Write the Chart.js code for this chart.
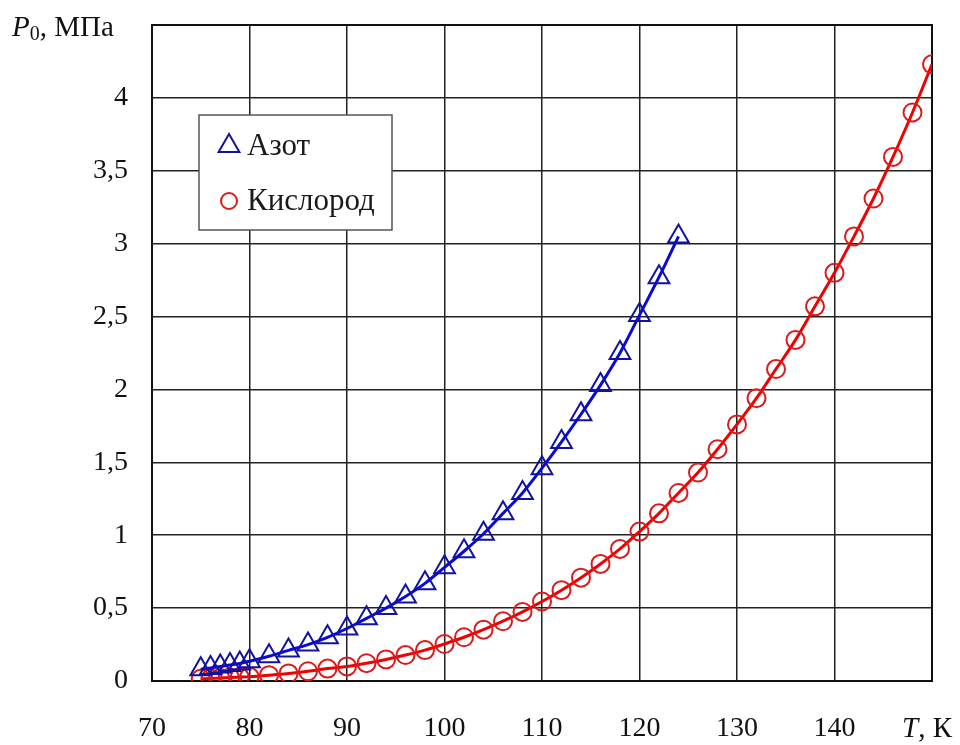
<!DOCTYPE html>
<html>
<head>
<meta charset="utf-8">
<script src="https://cdn.jsdelivr.net/npm/chart.js@4"></script>
<style>
  body { margin: 0; background: #fff; }
</style>
</head>
<body>
<canvas id="chart1" width="960" height="745"></canvas>
<script>
// nitrogen (Азот): temperature, K and pressure, MPa
var tN2 = [75, 76, 77, 78, 79, 80, 82, 84, 86, 88, 90, 92, 94, 96, 98, 100, 102, 104, 106, 108, 110, 112, 114, 116, 118, 120, 122, 124];
var pN2 = [0.08, 0.09, 0.10, 0.11, 0.12, 0.135, 0.17, 0.21, 0.25, 0.30, 0.36, 0.43, 0.50, 0.58, 0.67, 0.78, 0.89, 1.01, 1.15, 1.29, 1.46, 1.64, 1.83, 2.03, 2.25, 2.51, 2.77, 3.05];

// oxygen (Кислород)
var tO2 = [75, 76, 77, 78, 79, 80, 82, 84, 86, 88, 90, 92, 94, 96, 98, 100, 102, 104, 106, 108, 110, 112, 114, 116, 118, 120, 122, 124, 126, 128, 130, 132, 134, 136, 138, 140, 142, 144, 146, 148, 150];
var pO2 = [0.015, 0.017, 0.02, 0.024, 0.027, 0.03, 0.04, 0.052, 0.067, 0.085, 0.1, 0.122, 0.148, 0.178, 0.212, 0.254, 0.3, 0.352, 0.41, 0.474, 0.545, 0.623, 0.709, 0.803, 0.906, 1.025, 1.15, 1.29, 1.43, 1.59, 1.76, 1.94, 2.14, 2.34, 2.57, 2.80, 3.05, 3.31, 3.595, 3.90, 4.23];

var seriesNames = ['Азот', 'Кислород'];

var xMin = 70, xMax = 150, xStep = 10;
var yMin = 0, yMax = 4.5, yStep = 0.5;

var serif = '"Liberation Serif", "Times New Roman", serif';

function toPoints(xs, ys){
  var pts = [];
  for (var i = 0; i < xs.length; i++) {
    pts.push({x: xs[i], y: ys[i]});
  }
  return pts;
}

function marker(ctx, style, r, x, y){
  ctx.beginPath();
  if (style == 'triangle') {
    ctx.moveTo(x, y - r);
    ctx.lineTo(x + r * Math.sqrt(3) / 2, y + r / 2);
    ctx.lineTo(x - r * Math.sqrt(3) / 2, y + r / 2);
    ctx.closePath();
  } else {
    ctx.arc(x, y, r, 0, Math.PI * 2);
  }
  ctx.stroke();
}

// white box legend inside the plot + axis captions
var extras = {
  id: 'extras',
  beforeDatasetsDraw: function(chart){
    var a = chart.chartArea, ctx = chart.ctx;
    ctx.save();
    ctx.strokeStyle = '#111';
    ctx.lineWidth = 2;
    ctx.strokeRect(a.left, a.top, a.right - a.left, a.bottom - a.top);
    ctx.restore();
  },
  afterDraw: function(chart){
    var a = chart.chartArea, ctx = chart.ctx;
    ctx.save();

    // legend
    var bx = a.left + 47, by = a.top + 90, bw = 193, bh = 115;
    ctx.fillStyle = '#fff';
    ctx.fillRect(bx, by, bw, bh);
    ctx.strokeStyle = '#555';
    ctx.lineWidth = 1.5;
    ctx.strokeRect(bx, by, bw, bh);

    var rows = [31, 86];
    chart.data.datasets.forEach(function(ds, i){
      ctx.strokeStyle = ds.pointBorderColor;
      ctx.lineWidth = 2;
      marker(ctx, ds.pointStyle, ds.pointStyle == 'triangle' ? 12 : 8, bx + 30, by + rows[i]);
      ctx.fillStyle = '#1a1a1a';
      ctx.font = '31px ' + serif;
      ctx.textBaseline = 'middle';
      ctx.textAlign = 'left';
      ctx.fillText(ds.label, bx + 48, by + rows[i] + 1);
    });

    // y caption: P0, МПа
    ctx.fillStyle = '#111';
    ctx.textBaseline = 'alphabetic';
    ctx.font = 'italic 29px ' + serif;
    ctx.fillText('P', 12, 36);
    var w = ctx.measureText('P').width;
    ctx.font = '20px ' + serif;
    ctx.fillText('0', 12 + w, 40);
    var w2 = ctx.measureText('0').width;
    ctx.font = '29px ' + serif;
    ctx.fillText(', МПа', 12 + w + w2, 36);

    // x caption: T, К
    ctx.font = 'italic 29px ' + serif;
    ctx.fillText('T', 902, 737);
    var wt = ctx.measureText('T').width;
    ctx.font = '29px ' + serif;
    ctx.fillText(', К', 902 + wt, 737);

    ctx.restore();
  }
};

function commaLabel(v){
  return String(v).replace('.', ',');
}

var config = {
  type: 'line',
  data: {
    datasets: [{
      label: seriesNames[0],
      data: toPoints(tN2, pN2),
      borderColor: '#0a0ad8',
      borderWidth: 3,
      pointStyle: 'triangle',
      pointRadius: 12,
      pointBorderColor: '#1212a0',
      pointBorderWidth: 2,
      pointBackgroundColor: 'rgba(0,0,0,0)',
      fill: false,
      cubicInterpolationMode: 'monotone'
    },
    {
      label: seriesNames[1],
      data: toPoints(tO2, pO2),
      borderColor: '#f00000',
      borderWidth: 3,
      pointStyle: 'circle',
      pointRadius: 9,
      pointBorderColor: '#dd1a1a',
      pointBorderWidth: 2,
      pointBackgroundColor: 'rgba(0,0,0,0)',
      fill: false,
      cubicInterpolationMode: 'monotone'
    }]
  },
  options: {
    responsive: false,
    animation: false,
    devicePixelRatio: 1,
    layout: { padding: { top: 25, right: 28, left: 0, bottom: 0 } },
    plugins: {
      legend: { display: false },
      tooltip: { enabled: false }
    },
    scales: {
      x: {
        type: 'linear',
        min: xMin,
        max: xMax,
        ticks: {
          stepSize: xStep,
          color: '#111',
          font: { family: serif, size: 28 },
          padding: 31,
          maxRotation: 0,
          callback: function(v){ return v == xMax ? '' : String(v); }
        },
        grid: { color: '#222', lineWidth: 1.5, drawTicks: false },
        border: { color: '#111', width: 2 },
        afterFit: function(s){
          s.height = 64;
          s.paddingLeft = 0;
          s.paddingRight = 0;
        }
      },
      y: {
        min: yMin,
        max: yMax,
        ticks: {
          stepSize: yStep,
          color: '#111',
          font: { family: serif, size: 28 },
          padding: 24,
          callback: function(v){ return v == yMax ? '' : commaLabel(v); }
        },
        grid: { color: '#222', lineWidth: 1.5, drawTicks: false },
        border: { color: '#111', width: 2 },
        afterFit: function(s){
          s.width = 152;
          s.paddingTop = 0;
          s.paddingBottom = 0;
        }
      }
    }
  },
  plugins: [extras]
};

var chart = new Chart(document.getElementById('chart1'), config);
</script>
</body>
</html>
